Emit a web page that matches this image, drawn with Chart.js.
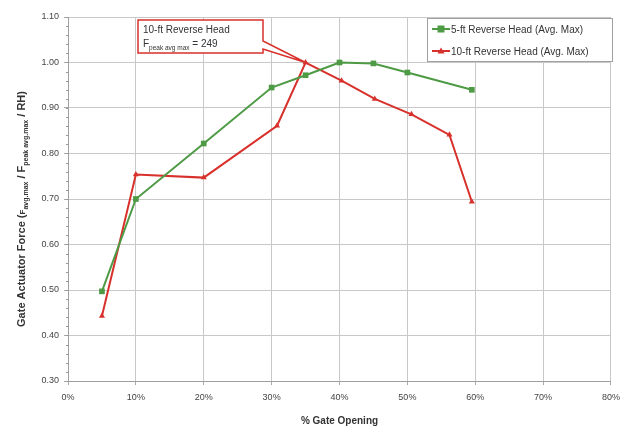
<!DOCTYPE html>
<html>
<head>
<meta charset="utf-8">
<script src="https://cdn.jsdelivr.net/npm/chart.js@4.4.1/dist/chart.umd.min.js"></script>
<style>
  html, body { margin: 0; padding: 0; background: #fff; }
  #wrap { width: 627px; height: 430px; position: relative; }
</style>
</head>
<body>
<div id="wrap"><canvas id="c" width="627" height="430"></canvas></div>
<script>
// Gate opening (%) and normalized actuator force for each reverse-head case
const gateOpening5ft  = [5, 10, 20, 30, 35, 40, 45, 50, 59.5];
const force5ft        = [0.497, 0.700, 0.822, 0.945, 0.972, 1.000, 0.998, 0.978, 0.940];
const gateOpening10ft = [5, 10, 20, 30.8, 35, 40.3, 45.2, 50.6, 56.2, 59.5];
const force10ft       = [0.443, 0.754, 0.747, 0.861, 1.000, 0.960, 0.920, 0.886, 0.841, 0.694];

const seriesLabels = ['5-ft Reverse Head (Avg. Max)', '10-ft Reverse Head (Avg. Max)'];
const xTicks = [0, 10, 20, 30, 40, 50, 60, 70, 80];
const yTicks = [0.30, 0.40, 0.50, 0.60, 0.70, 0.80, 0.90, 1.00, 1.10];

// Callout for the 10-ft peak
const calloutLine1 = '10-ft Reverse Head';
const calloutSub = 'peak avg max';
const calloutValue = ' = 249';
const calloutPointIndex = 4;

const GREEN = '#4e9a45';
const RED = '#d8312c';
const FONT = '"Liberation Sans", Arial, sans-serif';

function pairs(xs, ys) { return xs.map((x, i) => ({ x: x, y: ys[i] })); }

// Y-axis title with subscripts
const yTitlePlugin = {
  id: 'yTitle',
  afterDraw(chart) {
    const ctx = chart.ctx;
    const parts = [
      { t: 'Gate Actuator Force (', s: 11, dy: 0 },
      { t: 'F', s: 8, dy: 0 },
      { t: 'avg.max', s: 7, dy: 3 },
      { t: ' / F', s: 11, dy: 0 },
      { t: 'peak avg.max', s: 7, dy: 3 },
      { t: ' / RH)', s: 11, dy: 0 }
    ];
    ctx.save();
    let total = 0;
    parts.forEach(p => { ctx.font = 'bold ' + p.s + 'px ' + FONT; p.w = ctx.measureText(p.t).width; total += p.w; });
    const ca = chart.chartArea;
    ctx.translate(21, (ca.top + ca.bottom) / 2 + 10);
    ctx.rotate(-Math.PI / 2);
    ctx.fillStyle = '#333';
    ctx.textBaseline = 'alphabetic';
    let x = -total / 2;
    parts.forEach(p => {
      ctx.font = 'bold ' + p.s + 'px ' + FONT;
      ctx.fillText(p.t, x, 4 + p.dy);
      x += p.w;
    });
    ctx.restore();
  }
};

// Small minor ticks along the y axis
const minorTickPlugin = {
  id: 'minorTicks',
  afterDraw(chart) {
    const ctx = chart.ctx, y = chart.scales.y, ca = chart.chartArea;
    ctx.save();
    ctx.strokeStyle = '#9a9a9a';
    ctx.lineWidth = 1;
    for (let v = 0.30; v <= 1.1001; v += 0.02) {
      const py = Math.round(y.getPixelForValue(v)) + 0.5;
      ctx.beginPath();
      ctx.moveTo(ca.left - 2, py);
      ctx.lineTo(ca.left, py);
      ctx.stroke();
    }
    ctx.restore();
  }
};

// Boxed legend in the upper right of the plot
const boxLegendPlugin = {
  id: 'boxLegend',
  afterDraw(chart) {
    const ctx = chart.ctx;
    const left = 427, top = 18, right = 612, bottom = 61;
    ctx.save();
    ctx.fillStyle = '#fff';
    ctx.fillRect(left, top, right - left, bottom - top);
    ctx.strokeStyle = '#a0a0a0';
    ctx.lineWidth = 1;
    ctx.strokeRect(left + 0.5, top + 0.5, right - left, bottom - top);
    chart.data.datasets.forEach((ds, i) => {
      const cy = 29 + i * 22;
      ctx.strokeStyle = ds.borderColor;
      ctx.lineWidth = 2;
      ctx.beginPath();
      ctx.moveTo(432, cy);
      ctx.lineTo(450, cy);
      ctx.stroke();
      ctx.fillStyle = ds.borderColor;
      if (ds.pointStyle === 'rect') {
        ctx.fillRect(437.5, cy - 3.5, 7, 7);
      } else {
        ctx.beginPath();
        ctx.moveTo(441, cy - 3.5);
        ctx.lineTo(444.5, cy + 2.5);
        ctx.lineTo(437.5, cy + 2.5);
        ctx.closePath();
        ctx.fill();
      }
      ctx.fillStyle = '#333';
      ctx.font = '10px ' + FONT;
      ctx.textBaseline = 'middle';
      ctx.fillText(ds.label, 451, cy + 1);
    });
    ctx.restore();
  }
};

// Callout pointing to the 10-ft peak
const calloutPlugin = {
  id: 'callout',
  afterDraw(chart) {
    const ctx = chart.ctx;
    const pt = chart.getDatasetMeta(1).data[calloutPointIndex];
    const l = 138, t = 20, r = 263, b = 53;
    ctx.save();
    ctx.beginPath();
    ctx.moveTo(l, t);
    ctx.lineTo(r, t);
    ctx.lineTo(r, 41);
    ctx.lineTo(pt.x, pt.y);
    ctx.lineTo(r, 49);
    ctx.lineTo(r, b);
    ctx.lineTo(l, b);
    ctx.closePath();
    ctx.fillStyle = '#fff';
    ctx.fill();
    ctx.strokeStyle = RED;
    ctx.lineWidth = 1.5;
    ctx.stroke();
    ctx.fillStyle = '#333';
    ctx.textBaseline = 'alphabetic';
    ctx.font = '10px ' + FONT;
    ctx.fillText(calloutLine1, 143, 33);
    ctx.fillText('F', 143, 47);
    let x = 143 + ctx.measureText('F').width;
    ctx.font = '6.5px ' + FONT;
    ctx.fillText(calloutSub, x, 50);
    x += ctx.measureText(calloutSub).width;
    ctx.font = '10px ' + FONT;
    ctx.fillText(calloutValue, x, 47);
    ctx.restore();
  }
};

new Chart(document.getElementById('c'), {
  type: 'line',
  data: {
    datasets: [
      {
        label: seriesLabels[0],
        data: pairs(gateOpening5ft, force5ft),
        borderColor: GREEN,
        backgroundColor: GREEN,
        borderWidth: 2,
        pointStyle: 'rect',
        pointRadius: 4,
        pointBorderWidth: 0,
        tension: 0
      },
      {
        label: seriesLabels[1],
        data: pairs(gateOpening10ft, force10ft),
        borderColor: RED,
        backgroundColor: RED,
        borderWidth: 2,
        pointStyle: 'triangle',
        pointRadius: 3.5,
        pointBorderWidth: 0,
        tension: 0
      }
    ]
  },
  options: {
    responsive: false,
    animation: false,
    devicePixelRatio: 1,
    layout: { padding: { top: 17, right: 13, left: 0, bottom: 0 } },
    plugins: { legend: { display: false }, tooltip: { enabled: false } },
    scales: {
      x: {
        type: 'linear',
        min: 0, max: 80,
        afterBuildTicks(s) { s.ticks = xTicks.map(v => ({ value: v })); },
        afterFit(s) { s.height = 49; },
        grid: { color: '#c8c8c8', lineWidth: 1, tickLength: 4, tickColor: '#a8a8a8' },
        border: { color: '#a0a0a0', width: 1 },
        ticks: {
          color: '#444',
          font: { family: FONT, size: 9 },
          padding: 7,
          maxRotation: 0,
          callback: v => v + '%'
        },
        title: {
          display: true,
          text: '% Gate Opening',
          color: '#333',
          font: { family: FONT, size: 10, weight: 'bold' },
          padding: { top: 3, bottom: 3 }
        }
      },
      y: {
        type: 'linear',
        min: 0.3, max: 1.1,
        afterBuildTicks(s) { s.ticks = yTicks.map(v => ({ value: v })); },
        afterFit(s) { s.width = 68; },
        grid: { color: '#c8c8c8', lineWidth: 1, tickLength: 4, tickColor: '#a8a8a8' },
        border: { color: '#a0a0a0', width: 1 },
        ticks: {
          color: '#444',
          font: { family: FONT, size: 9 },
          padding: 5,
          callback: v => Number(v).toFixed(2)
        }
      }
    }
  },
  plugins: [minorTickPlugin, yTitlePlugin, calloutPlugin, boxLegendPlugin]
});
</script>
</body>
</html>
